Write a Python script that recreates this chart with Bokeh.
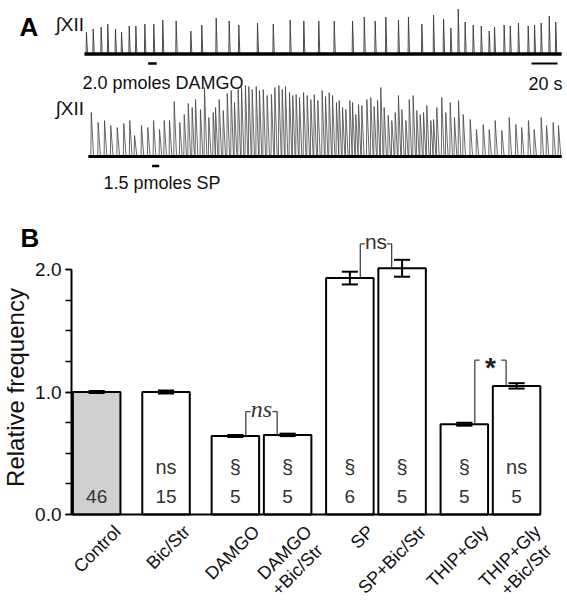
import math
from bokeh.plotting import figure
from bokeh.models import Range1d, FixedTicker, PrintfTickFormatter, ColumnDataSource
from bokeh.layouts import column
from bokeh.embed import file_html
from bokeh.resources import INLINE
from bokeh.core.properties import value

# ---------------- Panel A data (integrated XII nerve activity) ----------------
# spike times (s) and integrated amplitudes (a.u.)
trace1_t = [1.5, 6.7, 12.8, 17.9, 23.8, 28.5, 34.4, 39.5, 46.4, 53.3, 60.2, 70.5, 81.8, 90.2,
            101.3, 111.3, 118.7, 133.1, 145.2, 158.2, 168.7, 180.2, 192.1, 206.2, 215.2, 223.6,
            231.8, 241.5, 249.2, 259.5, 268.5, 276.2, 281.8, 287.5, 292.8, 299.0, 305.2, 311.3,
            315.4, 322.8, 327.5, 333.8, 341.3, 346.2, 351.3, 357.5, 362.5]
trace1_amp = [2.2, 2.5, 2.7, 3.0, 2.5, 2.2, 2.8, 2.8, 3.0, 3.0, 3.4, 3.3, 2.3, 2.9,
              3.6, 3.3, 2.9, 3.1, 3.0, 3.4, 3.3, 3.3, 3.3, 3.3, 3.7, 3.3,
              3.7, 3.4, 3.7, 3.0, 3.9, 3.5, 2.6, 4.5, 3.2, 2.9, 2.8, 2.3,
              2.7, 2.9, 2.8, 3.1, 2.8, 2.9, 3.1, 3.8, 3.2]
trace2_t = [5.2, 10.5, 15.4, 20.2, 25.2, 30.2, 34.8, 38.5, 43.8, 48.7, 53.1, 57.7, 61.3, 65.4,
            69.0, 73.3, 76.7, 79.8, 82.8, 85.4, 89.2, 92.3, 95.6, 99.0, 100.8, 103.6, 106.7,
            109.8, 112.8, 115.4, 118.2, 120.8, 123.8, 126.4, 129.0, 132.1, 134.6, 137.5, 140.5,
            143.8, 146.4, 149.5, 152.1, 154.6, 157.7, 160.2, 162.8, 165.4, 168.5, 171.3, 174.1,
            176.7, 179.5, 182.8, 185.4, 188.2, 190.8, 193.8, 195.9, 198.5, 201.0, 204.1, 206.2,
            208.7, 210.8, 213.3, 217.2, 220.2, 222.8, 225.4, 227.9, 230.5, 233.6, 236.4, 239.0,
            241.5, 244.1, 247.2, 249.8, 252.8, 255.6, 258.2, 260.8, 263.3, 266.4, 268.5, 271.0,
            274.8, 277.9, 281.3, 284.6, 287.7, 291.3, 296.7, 301.5, 306.7, 311.3, 315.9, 321.0,
            326.7, 331.8, 336.3, 341.5, 345.9, 351.3, 355.4, 360.5, 364.6]
trace2_amp = [4.4, 3.4, 3.6, 3.1, 2.9, 3.3, 3.6, 2.1, 3.1, 2.9, 3.6, 2.7, 3.6, 3.6,
              5.5, 3.4, 4.2, 5.3, 4.9, 5.7, 4.7, 6.9, 3.9, 4.4, 4.9, 5.7, 4.6,
              6.3, 6.6, 5.4, 6.7, 6.9, 7.1, 7.0, 6.7, 7.0, 6.6, 6.7, 6.1,
              6.2, 6.9, 7.1, 6.7, 7.0, 6.4, 6.1, 6.2, 5.9, 6.4, 6.1, 5.7,
              6.2, 5.6, 6.6, 6.0, 6.4, 6.1, 5.4, 5.6, 4.9, 4.7, 5.6, 5.4,
              4.2, 5.2, 5.1, 5.7, 5.9, 5.0, 5.6, 6.9, 4.9, 4.1, 3.6, 4.4,
              6.1, 4.7, 3.6, 5.7, 6.1, 4.6, 4.2, 4.4, 5.1, 3.6, 3.7, 4.9,
              5.9, 4.4, 5.4, 3.9, 5.6, 4.2, 3.7, 2.7, 3.2, 2.7, 3.6, 2.6,
              3.9, 3.2, 2.9, 3.6, 2.7, 3.9, 3.1, 3.4, 3.1]
trace1_span = (0.0, 367.0)
trace2_span = (3.0, 367.0)
damgo_puff = (49.0, 55.5)      # s, 2.0 pmoles DAMGO
sp_puff = (52.0, 57.5)         # s, 1.5 pmoles SP
scalebar_s = 20

# ---------------- Panel B data ----------------
categories = ["Control", "Bic/Str", "DAMGO", "DAMGO\n+Bic/Str", "SP", "SP+Bic/Str",
              "THIP+Gly", "THIP+Gly\n+Bic/Str"]
rel_freq = [1.00, 1.00, 0.64, 0.65, 1.93, 2.01, 0.737, 1.05]
sem = [0.008, 0.012, 0.008, 0.010, 0.052, 0.069, 0.012, 0.022]
n_exp = ["46", "15", "5", "5", "6", "5", "5", "5"]
sig_vs_control = ["", "ns", "§", "§", "§", "§", "§", "ns"]
# pairwise comparisons: (left bar, right bar, label)
comparisons = [(2, 3, "ns"), (4, 5, "ns"), (6, 7, "*")]

# ---------------- common layout ----------------
W = 567
SANS = value("Liberation Sans")
INK = "#111111"

# ---------------- Panel A figure ----------------
A_TOP, A_BOT = 0, 196            # page pixel rows covered by panel A
T0_PX, PX_PER_S = 84.0, 1.3      # layout of time axis
AMP_PX = 10.0                    # pixels per a.u.
BASE1, BASE2 = 53.5, 156.0       # baseline rows

pA = figure(width=W, height=A_BOT - A_TOP, x_range=Range1d(0, W), y_range=Range1d(A_BOT, A_TOP),
            x_axis_type=None, y_axis_type=None, toolbar_location=None, output_backend="svg",
            min_border=0, outline_line_color=None)
pA.grid.visible = False
pA.extra_x_ranges = {"t": Range1d(-T0_PX / PX_PER_S, (W - T0_PX) / PX_PER_S)}
pA.extra_y_ranges = {
    "tr1": Range1d(-(A_BOT - BASE1) / AMP_PX, (BASE1 - A_TOP) / AMP_PX),
    "tr2": Range1d(-(A_BOT - BASE2) / AMP_PX, (BASE2 - A_TOP) / AMP_PX),
}


def trace_path(ts, amps, span, rise, decay):
    xs, ys = [span[0]], [0.0]
    for t, a in zip(ts, amps):
        xs += [t - rise, t, t + decay]
        ys += [0.0, a, 0.0]
    xs.append(span[1])
    ys.append(0.0)
    return xs, ys


x1, y1 = trace_path(trace1_t, trace1_amp, trace1_span, 0.3, 0.8)
x2, y2 = trace_path(trace2_t, trace2_amp, trace2_span, 0.3, 1.8)
pA.line(x1, y1, x_range_name="t", y_range_name="tr1", line_color="#3a3a3a", line_width=0.9)
pA.line(list(trace1_span), [0, 0], x_range_name="t", y_range_name="tr1", line_color="black", line_width=3.5)
pA.line(x2, y2, x_range_name="t", y_range_name="tr2", line_color="#444444", line_width=0.8)
pA.line(list(trace2_span), [0, 0], x_range_name="t", y_range_name="tr2", line_color="black", line_width=3)

# drug puffs and scale bar
pA.segment(x0=[damgo_puff[0], sp_puff[0]], x1=[damgo_puff[1], sp_puff[1]], y0=[63.0, 165.5], y1=[63.0, 165.5],
           x_range_name="t", line_color="black", line_width=2.5)
sb_end = (557 - T0_PX) / PX_PER_S
pA.segment(x0=[sb_end - scalebar_s], x1=[sb_end], y0=[63.0], y1=[63.0], x_range_name="t",
           line_color="black", line_width=2)

pA.text(x=[19], y=[26], text=["A"], text_font=SANS, text_font_style="bold", text_font_size="26px",
        text_color="black", text_baseline="alphabetic")
pA.text(x=[55, 55], y=[24, 108], text=["∫XII", "∫XII"], text_font=SANS, text_font_size="19px",
        text_color=INK, text_baseline="alphabetic")
pA.text(x=[82, 103], y=[82.5, 182.5], text=["2.0 pmoles DAMGO", "1.5 pmoles SP"], text_font=SANS,
        text_font_size="18px", text_color=INK, text_baseline="alphabetic")
pA.text(x=[545], y=[83], text=[f"{scalebar_s} s"], text_font=SANS, text_font_size="18px",
        text_color=INK, text_baseline="alphabetic", text_align="center")

# ---------------- Panel B figure ----------------
B_TOP, B_BOT = A_BOT, 604
PX_X = 47.5      # px per bar-width unit
PX_Y = 122.5     # px per relative-frequency unit
AX_X, AX_Y = 71, 514             # page position of the axes origin


def bx(px):   # page column -> data x
    return (px - AX_X) / PX_X


def by(py):   # page row -> data y
    return (AX_Y - py) / PX_Y


gaps = [0.03, 0.46, 0.46, 0.1, 0.31, 0.1, 0.31, 0.1]
BAR_W = 1.0
centers = []
edge = 0.0
for g in gaps:
    edge += g
    centers.append(edge + BAR_W / 2)
    edge += BAR_W

pB = figure(width=W, height=B_BOT - B_TOP,
            x_range=Range1d(bx(0), bx(W)), y_range=Range1d(by(B_BOT), by(B_TOP)),
            toolbar_location=None, output_backend="svg", min_border=0, outline_line_color=None)
pB.grid.visible = False

fills = ["#d0d0d0"] + ["white"] * (len(categories) - 1)
src = ColumnDataSource(dict(x=centers, top=rel_freq, fill=fills))
pB.vbar(x="x", top="top", bottom=0, width=BAR_W, source=src, fill_color="fill",
        line_color="black", line_width=2)

lo = [v - e for v, e in zip(rel_freq, sem)]
hi = [v + e for v, e in zip(rel_freq, sem)]
CAP = 0.17
pB.segment(x0=centers, x1=centers, y0=lo, y1=hi, line_color="black", line_width=2)
pB.segment(x0=[c - CAP for c in centers] * 2, x1=[c + CAP for c in centers] * 2,
           y0=lo + hi, y1=lo + hi, line_color="black", line_width=2)

# in-bar labels
pB.text(x=centers, y=[0.147] * len(centers), text=n_exp, text_font=SANS, text_font_size="19px",
        text_color="#333333", text_align="center", text_baseline="middle")
pB.text(x=centers, y=[0.384] * len(centers), text=sig_vs_control, text_font=SANS, text_font_size="20px",
        text_color="#333333", text_align="center", text_baseline="middle")

# comparison brackets
LEG, STUB = 0.22, 0.1
bracket_levels = [0.84, 2.21, 1.26]
bx0, bx1, by0, by1 = [], [], [], []
for (i, j, _), lvl in zip(comparisons, bracket_levels):
    xl, xr = centers[i] + LEG, centers[j] - LEG
    bx0 += [xl, xr, xl, xr - STUB]
    bx1 += [xl, xr, xl + STUB, xr]
    by0 += [rel_freq[i], rel_freq[j], lvl, lvl]
    by1 += [lvl, lvl, lvl, lvl]
pB.segment(x0=bx0, x1=bx1, y0=by0, y1=by1, line_color="#444444", line_width=1.3)
mids = [(centers[i] + centers[j]) / 2 for i, j, _ in comparisons]
pB.text(x=[mids[0]], y=[bracket_levels[0]], text=[comparisons[0][2]], text_font=value("Liberation Serif"),
        text_font_style="italic", text_font_size="24px", text_color="#333333",
        text_align="center", text_baseline="middle", y_offset=-3)
pB.text(x=[mids[1]], y=[bracket_levels[1]], text=[comparisons[1][2]], text_font=SANS,
        text_font_size="21px", text_color="#333333", text_align="center", text_baseline="middle", y_offset=-2)
pB.text(x=[mids[2]], y=[bracket_levels[2]], text=[comparisons[2][2]], text_font=SANS,
        text_font_style="bold", text_font_size="28px", text_color="#222222",
        text_align="center", text_baseline="middle", y_offset=7)

# axes, placed at the data origin inside the frame
yax = pB.yaxis[0]
yax.fixed_location = 0
yax.ticker = FixedTicker(ticks=[0, 1, 2], minor_ticks=[k * 0.25 for k in range(9)])
yax.formatter = PrintfTickFormatter(format="%.1f")
yax.bounds = (0, 2)
yax.axis_line_width = 2
yax.major_tick_line_width = 1.5
yax.minor_tick_line_width = 1.5
yax.major_tick_out = 6
yax.major_tick_in = 0
yax.minor_tick_out = 6
yax.minor_tick_in = 0
yax.major_label_text_font = "Liberation Sans"
yax.major_label_text_font_size = "19px"
yax.major_label_text_color = INK
yax.major_label_standoff = 4

xax = pB.xaxis[0]
xax.fixed_location = 0
xax.ticker = FixedTicker(ticks=[], minor_ticks=[])
xax.bounds = (0, centers[-1] + BAR_W / 2)
xax.axis_line_width = 2
xax.major_tick_line_color = None
xax.minor_tick_line_color = None

# rotated category labels (one text per line)
DX, DY = 21, 14          # px offset of label end from bar centre / axis
L2_DX, L2_DY = 11, 19    # px offset of a second line
lx, ly, lt = [], [], []
for c, cat in zip(centers, categories):
    for k, line in enumerate(cat.split("\n")):
        lx.append(c + (DX + k * L2_DX) / PX_X)
        ly.append(-(DY + k * L2_DY) / PX_Y)
        lt.append(line)
pB.text(x=lx, y=ly, text=lt, angle=math.pi / 4, text_align="right", text_baseline="middle",
        text_font=SANS, text_font_size="18px", text_color=INK)

pB.text(x=[bx(20)], y=[by(237)], text=["B"], text_font=SANS, text_font_style="bold",
        text_font_size="26px", text_color="black", text_baseline="alphabetic")
pB.text(x=[bx(15)], y=[by(387)], text=["Relative frequency"], text_font=SANS, text_font_size="24px",
        text_color=INK, angle=math.pi / 2, text_align="center", text_baseline="middle")

layout = column(pA, pB)
open("out.html", "w").write(file_html(layout, INLINE))
